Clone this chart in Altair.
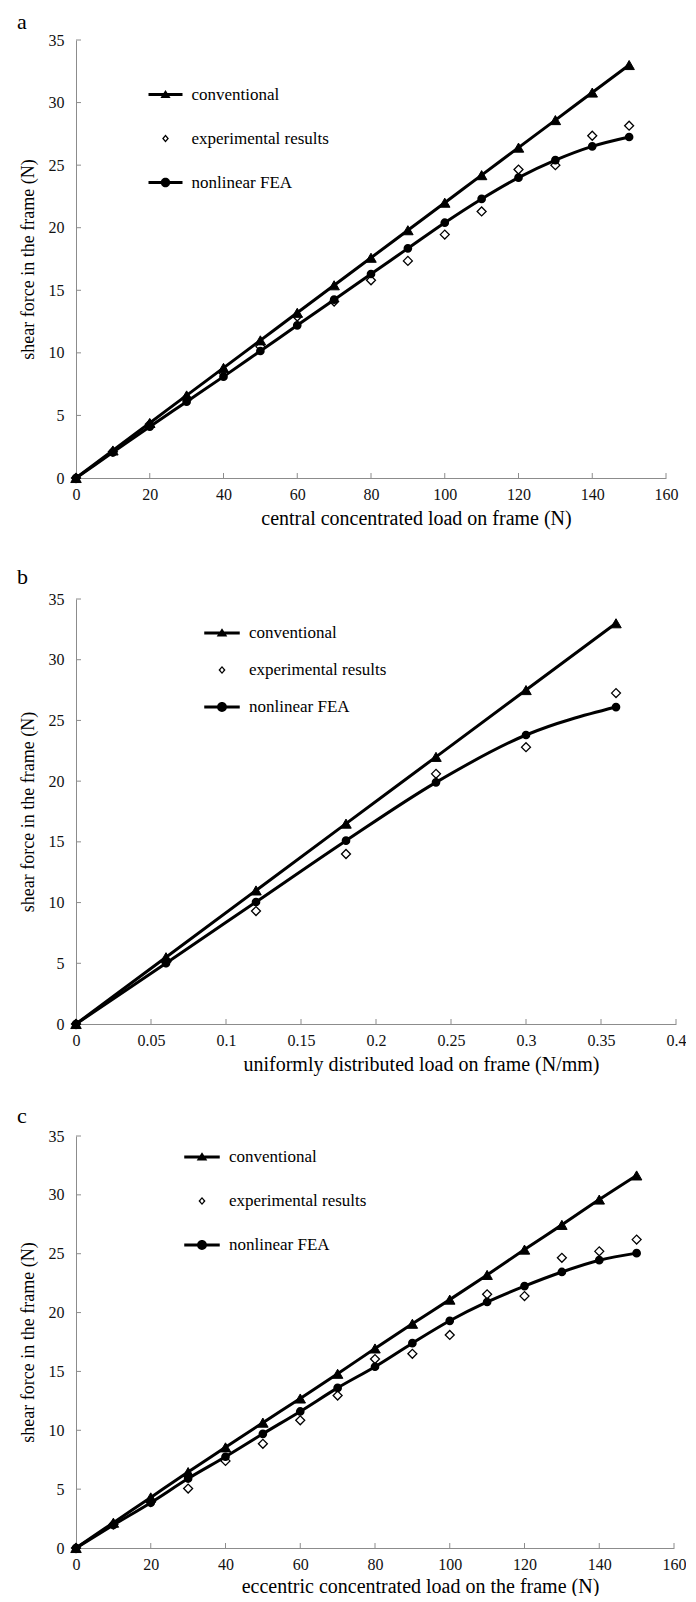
import altair as alt
import pandas as pd

FONT = "Liberation Serif"
AXIS_GRAY = "#8c8c8c"

SERIES_ORDER = ["conventional", "experimental results", "nonlinear FEA"]

# ---------------- panel a: central concentrated load ----------------
a_load = [0, 10, 20, 30, 40, 50, 60, 70, 80, 90, 100, 110, 120, 130, 140, 150]
a_conv = [0, 2.2, 4.4, 6.6, 8.8, 11.0, 13.2, 15.4, 17.6, 19.8, 22.0, 24.2, 26.4, 28.6, 30.8, 33.0]
a_exp = [0, 2.1, 4.3, 6.4, 8.4, 10.5, 12.9, 14.1, 15.8, 17.35, 19.45, 21.3, 24.65, 25.0, 27.35, 28.15]
a_fea = [0, 2.05, 4.1, 6.1, 8.1, 10.15, 12.2, 14.25, 16.3, 18.35, 20.4, 22.3, 24.0, 25.4, 26.5, 27.25]
a_xticks = [0, 20, 40, 60, 80, 100, 120, 140, 160]

# ---------------- panel b: uniformly distributed load ----------------
b_load = [0, 0.06, 0.12, 0.18, 0.24, 0.30, 0.36]
b_conv = [0, 5.5, 11.0, 16.5, 22.0, 27.5, 33.0]
b_exp = [0, 5.1, 9.3, 14.0, 20.6, 22.8, 27.25]
b_fea = [0, 5.0, 10.05, 15.1, 19.9, 23.8, 26.1]
b_xticks = [0, 0.05, 0.1, 0.15, 0.2, 0.25, 0.3, 0.35, 0.4]

# ---------------- panel c: eccentric concentrated load ----------------
c_load = [0, 10, 20, 30, 40, 50, 60, 70, 80, 90, 100, 110, 120, 130, 140, 150]
c_conv = [0, 2.15, 4.3, 6.45, 8.55, 10.65, 12.7, 14.8, 16.95, 19.05, 21.1, 23.2, 25.35, 27.45, 29.6, 31.65]
c_exp = [0, 2.0, 3.9, 5.05, 7.4, 8.85, 10.85, 12.95, 16.05, 16.5, 18.1, 21.55, 21.4, 24.65, 25.2, 26.2]
c_fea = [0, 1.95, 3.85, 5.9, 7.75, 9.7, 11.6, 13.6, 15.4, 17.4, 19.3, 20.9, 22.25, 23.45, 24.45, 25.05]
c_xticks = [0, 20, 40, 60, 80, 100, 120, 140, 160]

y_ticks = [0, 5, 10, 15, 20, 25, 30, 35]
y_title = "shear force in the frame (N)"

# legend symbol paths (unit box -1..1): line segment + marker
P_CONV = "M-1,-0.085L1,-0.085L1,0.085L-1,0.085Z M0,-0.27L0.3,0.2L-0.3,0.2Z"
P_EXP = "M0,-0.23L0.2,0L0,0.23L-0.2,0Z M0,-0.12L-0.1,0L0,0.12L0.1,0Z"
P_FEA = "M-1,-0.085L1,-0.085L1,0.085L-1,0.085Z M0.28,0A0.28,0.28 0 1,1 -0.28,0A0.28,0.28 0 1,1 0.28,0Z"


def build_df(loads, conv, exp, fea):
    rows = []
    for name, vals in [("experimental results", exp), ("conventional", conv), ("nonlinear FEA", fea)]:
        for i, (x, y) in enumerate(zip(loads, vals)):
            rows.append({"load": x, "shear": y, "series": name, "idx": i})
    return pd.DataFrame(rows)


def panel(letter, letter_y, loads, conv, exp, fea, xdomain, xticks, xfmt, xtitle, width, height,
          top_gap, x_title_pad, leg_x, leg_y, leg_row, sym_size):
    df = build_df(loads, conv, exp, fea)
    xscale = alt.Scale(domain=xdomain, nice=False, zero=False)
    yscale = alt.Scale(domain=[0, 35], nice=False, zero=False, range=[height, top_gap])
    xaxis = alt.Axis(values=xticks, format=xfmt, title=xtitle, ticks=False, grid=False,
                     labelFlush=False, labelPadding=8, titlePadding=x_title_pad,
                     titleX=width / 2 + 45)
    yaxis = alt.Axis(values=y_ticks, title=y_title, ticks=False, grid=False,
                     labelFlush=False, labelPadding=12, titlePadding=11)
    X = alt.X("load:Q", scale=xscale, axis=xaxis)
    Y = alt.Y("shear:Q", scale=yscale, axis=yaxis)

    lines = alt.Chart(df).transform_filter(
        alt.datum.series != "experimental results"
    ).mark_line(color="black", strokeWidth=3, interpolate="monotone").encode(
        x=X, y=Y, detail="series:N", order="idx:Q"
    )

    points = alt.Chart(df).mark_point(filled=True, stroke="black", opacity=1).encode(
        x=X, y=Y,
        shape=alt.Shape("series:N", scale=alt.Scale(domain=SERIES_ORDER,
                        range=["triangle-up", "diamond", "circle"]), legend=None),
        fill=alt.Fill("series:N", scale=alt.Scale(domain=SERIES_ORDER,
                      range=["black", "white", "black"]), legend=None),
        size=alt.Size("series:N", scale=alt.Scale(domain=SERIES_ORDER, range=[110, 50, 85]),
                      legend=None),
        strokeWidth=alt.StrokeWidth("series:N", scale=alt.Scale(domain=SERIES_ORDER,
                                    range=[1, 1.6, 1]), legend=None),
    )

    legend = alt.Legend(
        title=None, orient="none", legendX=leg_x, legendY=leg_y, padding=0,
        symbolSize=sym_size, symbolFillColor="black", symbolStrokeWidth=0,
        symbolOpacity=1, labelFont=FONT, labelFontSize=17, labelColor="black",
        labelOffset=9, rowPadding=leg_row, labelLimit=400,
    )
    legend_layer = alt.Chart(df).transform_filter("false").mark_point(
        filled=True, color="black", opacity=1
    ).encode(
        shape=alt.Shape("series:N", scale=alt.Scale(domain=SERIES_ORDER,
                        range=[P_CONV, P_EXP, P_FEA]), legend=legend),
    )

    xt = pd.DataFrame({"t": xticks})
    yt = pd.DataFrame({"t": y_ticks})
    xtick_layer = alt.Chart(xt).mark_rule(color=AXIS_GRAY, strokeWidth=1).encode(
        x=alt.X("t:Q", scale=xscale, axis=xaxis), y=alt.value(height), y2=alt.value(height - 5)
    )
    ytick_layer = alt.Chart(yt).mark_rule(color=AXIS_GRAY, strokeWidth=1).encode(
        y=alt.Y("t:Q", scale=yscale, axis=yaxis), x=alt.value(0), x2=alt.value(5)
    )

    letter_layer = alt.Chart(pd.DataFrame({"letter": [letter]})).mark_text(
        font=FONT, fontSize=22, align="left", baseline="alphabetic", color="black"
    ).encode(text="letter:N", x=alt.value(-59), y=alt.value(letter_y))

    return alt.layer(xtick_layer, ytick_layer, lines, points, legend_layer,
                     letter_layer).resolve_scale(shape="independent").properties(
        width=width, height=height
    )


pa = panel("a", -11, a_load, a_conv, a_exp, a_fea, [0, 160], a_xticks, "d",
           "central concentrated load on frame (N)", 590, 438, 0, 6, 72.5, 37.5, 19, 1156)
pb = panel("b", -6, b_load, b_conv, b_exp, b_fea, [0, 0.4], b_xticks, ".2~f",
           "uniformly distributed load on frame (N/mm)", 600, 434, 9, 6, 128, 25, 11, 1260)
pc = panel("c", -13, c_load, c_conv, c_exp, c_fea, [0, 160], c_xticks, "d",
           "eccentric concentrated load on the frame (N)", 598, 412, 0, 4, 108, 3, 18, 1260)

chart = alt.vconcat(pa, pb, pc, spacing=112, bounds="flush").properties(
    padding={"left": 9, "top": 3, "right": 0, "bottom": 0}
).configure(font=FONT).configure_view(stroke=None).configure_axis(
    domainColor=AXIS_GRAY, domainWidth=1,
    labelFont=FONT, labelFontSize=16, labelColor="#111",
    titleFont=FONT, titleFontSize=18, titleFontWeight="normal", titleColor="black",
).configure_axisX(titleFontSize=20)

chart.save("out.html", embed_options={"renderer": "svg", "actions": False})
